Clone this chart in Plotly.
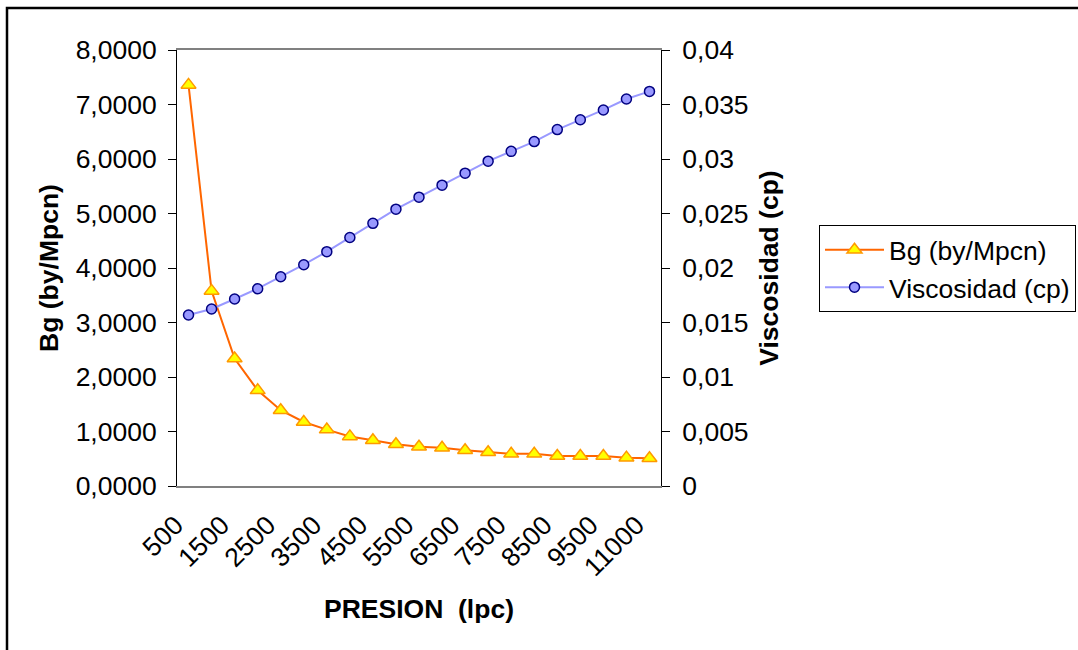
import plotly.graph_objects as go

# ---- data ----
presion = [500, 1000, 1500, 2000, 2500, 3000, 3500, 4000, 4500, 5000, 5500,
           6000, 6500, 7000, 7500, 8000, 8500, 9000, 9500, 10000, 11000]
bg = [7.36, 3.58, 2.34, 1.755, 1.39, 1.175, 1.035, 0.91, 0.84, 0.765, 0.72,
      0.70, 0.655, 0.62, 0.59, 0.59, 0.55, 0.55, 0.55, 0.52, 0.51]
visc = [0.01569, 0.01624, 0.01716, 0.0181, 0.0192, 0.0203, 0.0215, 0.0228,
        0.0241, 0.0254, 0.0265, 0.0276, 0.0287, 0.0298, 0.0307, 0.0316,
        0.0327, 0.0336, 0.0345, 0.0355, 0.0362]
cats = [str(p) for p in presion]
tick_cats = cats[::2]

FONT = "Liberation Sans, Arial, sans-serif"
FS = 26.5

fig = go.Figure()
fig.add_trace(go.Scatter(
    x=cats, y=bg, name="Bg (by/Mpcn)", mode="lines+markers",
    line=dict(color="#FF6600", width=2),
    marker=dict(symbol="triangle-up", size=13, color="#FFFF00",
                line=dict(color="#FF9900", width=1.5)),
    xaxis="x", yaxis="y"))
fig.add_trace(go.Scatter(
    x=cats, y=visc, name="Viscosidad (cp)", mode="lines+markers",
    line=dict(color="#9999FF", width=2),
    marker=dict(symbol="circle", size=10, color="#9999FF",
                line=dict(color="#000080", width=1.5)),
    xaxis="x", yaxis="y2"))

n = len(cats)
xr = [-0.5, n - 0.5]
bounds = [i - 0.5 for i in range(n + 1)]

tickfont = dict(family=FONT, size=FS, color="black")
titlefont = dict(family=FONT, size=FS, color="black", weight="bold")

fig.update_layout(
    width=1078, height=650, autosize=False,
    margin=dict(l=177, r=417, t=50, b=164, autoexpand=False),
    paper_bgcolor="white", plot_bgcolor="white",
    separators=",.",
    showlegend=True,
    legend=dict(xref="container", yref="container",
                x=819 / 1078, y=1 - 225 / 650, xanchor="left", yanchor="top",
                bordercolor="black", borderwidth=1, bgcolor="white",
                font=dict(family=FONT, size=FS, color="black"),
                itemwidth=59, tracegroupgap=0),
    xaxis=dict(type="category", range=xr, tickmode="array",
               tickvals=tick_cats, ticktext=tick_cats, tickangle=-45,
               ticks="", showgrid=False, zeroline=False,
               showline=True, linecolor="#808080", linewidth=2, mirror=True,
               tickfont=tickfont, ticklabelshift=-13, ticklabelstandoff=11,
               title=dict(text="PRESION  (lpc)", font=titlefont, standoff=19)),
    xaxis2=dict(overlaying="x", anchor="y", range=xr, tickmode="array",
                tickvals=bounds, showticklabels=False, ticks="outside",
                ticklen=8, tickcolor="black", tickwidth=1, showgrid=False,
                zeroline=False, showline=False),
    xaxis3=dict(overlaying="x", anchor="y", range=xr, tickmode="array",
                tickvals=bounds, showticklabels=False, ticks="inside",
                ticklen=8, tickcolor="black", tickwidth=1, showgrid=False,
                zeroline=False, showline=False),
    yaxis=dict(range=[0, 8], dtick=1, tickformat=".4f", ticks="outside",
               ticklen=8, tickcolor="black", showline=True, linecolor="black",
               linewidth=1, showgrid=False, zeroline=False, tickfont=tickfont,
               ticklabelstandoff=6,
               title=dict(text="Bg (by/Mpcn)", font=titlefont, standoff=9)),
    yaxis3=dict(overlaying="y", anchor="x", side="left", range=[0, 8], dtick=1,
                ticks="inside", ticklen=8, tickcolor="black",
                showticklabels=False, showgrid=False, zeroline=False,
                showline=False),
    yaxis2=dict(overlaying="y", anchor="x", side="right", range=[0, 0.04],
                dtick=0.005, ticks="outside", ticklen=8, tickcolor="black",
                showline=True, linecolor="black", linewidth=1, showgrid=False,
                zeroline=False, tickfont=tickfont, ticklabelstandoff=7,
                title=dict(text="Viscosidad (cp)", font=titlefont, standoff=11)),
    yaxis4=dict(overlaying="y", anchor="x", side="right", range=[0, 0.04],
                dtick=0.005, ticks="inside", ticklen=8, tickcolor="black",
                showticklabels=False, showgrid=False, zeroline=False,
                showline=False),
    shapes=[dict(type="rect", xref="paper", yref="paper",
                 x0=(7 - 177) / 484, x1=(1100 - 177) / 484,
                 y0=(486 - 670) / 436, y1=(486 - 8) / 436,
                 line=dict(color="black", width=2.5), fillcolor="rgba(0,0,0,0)",
                 layer="below")],
)

fig.write_html("out.html")
